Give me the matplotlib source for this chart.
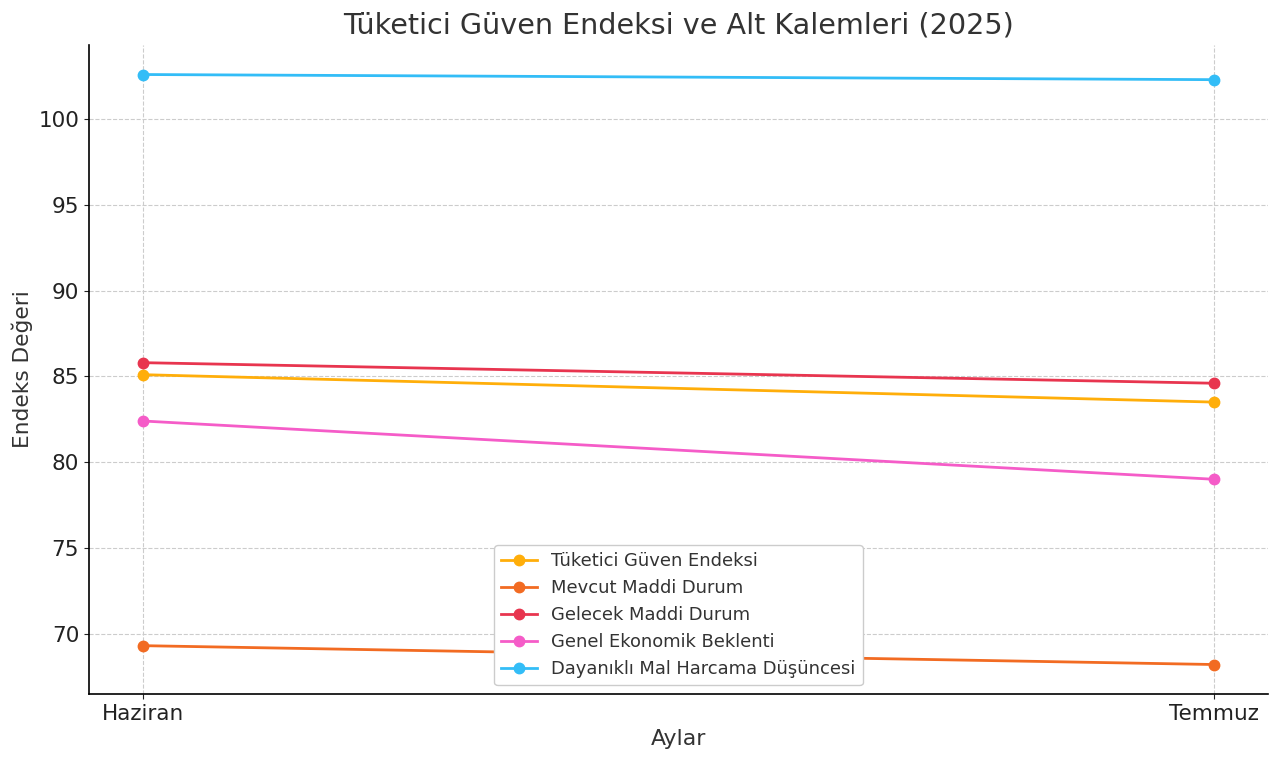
import matplotlib
matplotlib.use('Agg')
import matplotlib.pyplot as plt

# data
months = ['Haziran', 'Temmuz']
series_names = ['Tüketici Güven Endeksi', 'Mevcut Maddi Durum', 'Gelecek Maddi Durum',
                'Genel Ekonomik Beklenti', 'Dayanıklı Mal Harcama Düşüncesi']
tuketici = [85.1, 83.5]
mevcut = [69.3, 68.2]
gelecek = [85.8, 84.6]
genel = [82.4, 79.0]
dayanikli = [102.6, 102.3]
colors = ['#FFAE0A', '#F26B22', '#E8354F', '#F55CC8', '#33BDF7']

fig = plt.figure(figsize=(12.8, 7.63), dpi=100)
ax = fig.add_axes([0.0695, 0.0904, 0.921, 0.8506])

x = range(len(months))
for vals, name, c in zip([tuketici, mevcut, gelecek, genel, dayanikli], series_names, colors):
    ax.plot(x, vals, marker='o', markersize=7.5, linewidth=2, color=c, label=name)

ax.set_xticks(list(x))
ax.set_xticklabels(months)
ax.tick_params(labelsize=15.5, colors='#222222')
ax.set_xlabel('Aylar', fontsize=15.8, color='#333333')
ax.set_ylabel('Endeks Değeri', fontsize=15.6, color='#333333')
ax.set_title('Tüketici Güven Endeksi ve Alt Kalemleri (2025)', fontsize=20.6, color='#333333', pad=8)

# grid and spines
ax.grid(True, linestyle='--', color='#cccccc', linewidth=0.8)
ax.spines['top'].set_visible(False)
ax.spines['right'].set_visible(False)
ax.spines['left'].set_linewidth(1.2)
ax.spines['bottom'].set_linewidth(1.2)

leg = ax.legend(loc='lower center', fontsize=12.85, framealpha=1)
for t in leg.get_texts():
    t.set_color('#333333')

plt.savefig('out.png', dpi=100)
